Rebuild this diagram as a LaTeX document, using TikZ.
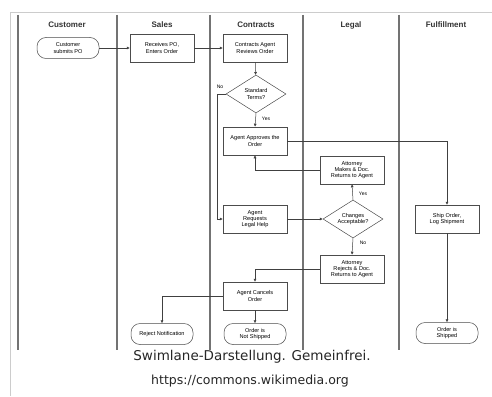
\documentclass[tikz,border=0pt]{standalone}
\usepackage{fontspec}
\setmainfont{Liberation Sans}
\newfontfamily\capfont{DejaVu Sans}
\usetikzlibrary{shapes.geometric,arrows.meta}
\begin{document}
\begin{tikzpicture}[x=1pt,y=-1pt,
  lane/.style={draw=black!55,line width=1.1pt},
  hdr/.style={font=\fontsize{8}{9}\selectfont\bfseries,text=black!80},
  proc/.style={draw=black!70,line width=0.5pt,minimum width=64pt,minimum height=28pt,inner sep=1pt,align=center,font=\fontsize{5.6}{6.3}\selectfont},
  term/.style={draw=black!70,line width=0.5pt,rounded corners=9pt,minimum width=62pt,minimum height=21pt,inner sep=1pt,align=center,font=\fontsize{5.6}{6.3}\selectfont},
  dec/.style={draw=black!70,line width=0.5pt,diamond,aspect=1.55,minimum width=60pt,minimum height=38pt,inner sep=0pt,align=center,font=\fontsize{5.6}{6.3}\selectfont},
  conn/.style={draw=black!75,line width=0.5pt,-{Latex[length=3pt,width=3pt]}},
  lbl/.style={font=\fontsize{5}{5.5}\selectfont,inner sep=0.5pt}
]
\useasboundingbox (0,0) rectangle (492,396);
\fill[white] (0,0) rectangle (492,396);
% thumbnail frame
\draw[black!20,line width=0.8pt] (10,396) -- (10,12) -- (492,12);
% lanes
\foreach \xx in {18,117,210,303,399} \draw[lane] (\xx,15) -- (\xx,350);
\node[hdr] (hc) at (67,25) {Customer};
\node[hdr] (hs) at (162,25) {Sales};
\node[hdr] (hk) at (256,25) {Contracts};
\node[hdr] (hl) at (351,25) {Legal};
\node[hdr] (hf) at (446,25) {Fulfillment};
% nodes
\node[term] (cust) at (68,48) {Customer\\submits PO};
\node[proc] (recv) at (162,48) {Receives PO,\\Enters Order};
\node[proc] (rev) at (255,48) {Contracts Agent\\Reviews Order};
\node[dec] (std) at (256,94) {Standard\\Terms?};
\node[proc] (appr) at (255,141) {Agent Approves the\\Order};
\node[proc] (req) at (255,219) {Agent\\Requests\\Legal Help};
\node[proc] (leg1) at (352,170) {Attorney\\Makes \& Doc.\\Returns to Agent};
\node[dec] (chg) at (353,219) {Changes\\Acceptable?};
\node[proc] (leg2) at (352,269) {Attorney\\Rejects \& Doc.\\Returns to Agent};
\node[proc] (canc) at (255,296) {Agent Cancels\\Order};
\node[term] (rej) at (162,334) {Reject Notification};
\node[term] (nship) at (255,334) {Order is\\Not Shipped};
\node[proc] (ship) at (447,219) {Ship Order,\\Log Shipment};
\node[term] (shipped) at (447,333) {Order is\\Shipped};
% connectors
\draw[conn] (cust) -- (recv);
\draw[conn] (recv) -- (rev);
\draw[conn] (rev) -- (std);
\draw[conn] (std.south) -- (appr.north);
\coordinate (nob) at (217,94);
\draw[conn] (std.west) -- (nob) |- (req.west);
\draw[conn] (appr.east) -| (ship.north);
\draw[conn] (leg1.west) -| (appr.south);
\draw[conn] (req.east) -- (chg.west);
\draw[conn] (chg.north) -- (leg1.south);
\draw[conn] (chg.south) -- (leg2.north);
\draw[conn] (leg2.west) -| (canc.north);
\draw[conn] (canc.west) -| (rej.north);
\draw[conn] (canc.south) -- (nship.north);
\draw[conn] (ship.south) -- (shipped.north);
\node[lbl] (lno1) at (220,87) {No};
\node[lbl] (lyes1) at (266,119) {Yes};
\node[lbl] (lyes2) at (363,194) {Yes};
\node[lbl] (lno2) at (363,243) {No};
% caption
\node[font=\capfont\fontsize{13.5}{15}\selectfont,text=black!85] (cap1) at (252,357) {Swimlane-Darstellung. Gemeinfrei.};
\node[font=\capfont\fontsize{12.5}{14}\selectfont,text=black!85] (cap2) at (250,381) {https://commons.wikimedia.org};
\end{tikzpicture}
\end{document}
